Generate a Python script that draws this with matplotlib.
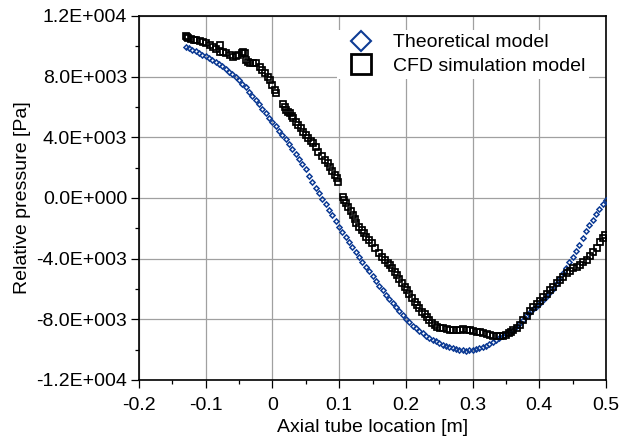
import math
import matplotlib
matplotlib.use("Agg")
import matplotlib.pyplot as plt
from matplotlib.lines import Line2D
from matplotlib.ticker import MultipleLocator, FuncFormatter

plt.rcParams['font.family'] = ['Liberation Sans', 'DejaVu Sans']

# Theoretical model (blue diamonds)
theory_x = [-0.130, -0.125, -0.120, -0.115, -0.110, -0.105, -0.100, -0.095, -0.090, -0.085,
            -0.080, -0.075, -0.070, -0.065, -0.060, -0.055, -0.050, -0.045, -0.040, -0.035,
            -0.030, -0.025, -0.020, -0.015, -0.010, -0.005, 0.000, 0.005, 0.010, 0.015,
            0.020, 0.025, 0.030, 0.035, 0.040, 0.045, 0.050, 0.055, 0.060, 0.065,
            0.070, 0.075, 0.080, 0.085, 0.090, 0.095, 0.100, 0.105, 0.110, 0.115,
            0.120, 0.125, 0.130, 0.135, 0.140, 0.145, 0.150, 0.155, 0.160, 0.165,
            0.170, 0.175, 0.180, 0.185, 0.190, 0.195, 0.200, 0.205, 0.210, 0.215,
            0.220, 0.225, 0.230, 0.235, 0.240, 0.245, 0.250, 0.255, 0.260, 0.265,
            0.270, 0.275, 0.280, 0.285, 0.290, 0.295, 0.300, 0.305, 0.310, 0.315,
            0.320, 0.325, 0.330, 0.335, 0.340, 0.345, 0.350, 0.355, 0.360, 0.365,
            0.370, 0.375, 0.380, 0.385, 0.390, 0.395, 0.400, 0.405, 0.410, 0.415,
            0.420, 0.425, 0.430, 0.435, 0.440, 0.445, 0.450, 0.455, 0.460, 0.465,
            0.470, 0.475, 0.480, 0.485, 0.490, 0.495, 0.500]
theory_p = [9980, 9880, 9780, 9670, 9560, 9450, 9340, 9230, 9120, 8990,
            8850, 8690, 8520, 8340, 8150, 7960, 7760, 7540, 7290, 7020,
            6740, 6460, 6170, 5880, 5580, 5290, 4990, 4720, 4440, 4150,
            3860, 3550, 3230, 2910, 2580, 2240, 1900, 1480, 1050, 670,
            300, -60, -420, -790, -1150, -1520, -1880, -2230, -2580, -2910,
            -3240, -3570, -3900, -4210, -4520, -4840, -5150, -5470, -5780, -6090,
            -6400, -6660, -6920, -7170, -7420, -7690, -7960, -8190, -8420, -8600,
            -8780, -8930, -9080, -9210, -9340, -9450, -9560, -9660, -9760, -9840,
            -9910, -9960, -10000, -10030, -10060, -10050, -10030, -9970, -9900, -9820,
            -9730, -9620, -9500, -9380, -9260, -9120, -8980, -8830, -8680, -8500,
            -8320, -8060, -7800, -7570, -7350, -7170, -6980, -6750, -6520, -6260,
            -5990, -5670, -5340, -4970, -4600, -4230, -3860, -3490, -3120, -2650,
            -2190, -1810, -1440, -1080, -720, -410, -100]

# CFD simulation model (black squares)
cfd_x = [-0.130, -0.128, -0.126, -0.122, -0.118, -0.114, -0.109, -0.104, -0.099, -0.094,
         -0.089, -0.084, -0.079, -0.079, -0.074, -0.069, -0.064, -0.059, -0.055, -0.051,
         -0.046, -0.044, -0.041, -0.039, -0.036, -0.034, -0.029, -0.024, -0.019, -0.015,
         -0.011, -0.007, -0.004, 0.000, 0.004, 0.006, 0.016, 0.019, 0.021, 0.024,
         0.026, 0.029, 0.031, 0.035, 0.039, 0.043, 0.046, 0.050, 0.054, 0.058,
         0.061, 0.065, 0.069, 0.074, 0.079, 0.083, 0.086, 0.090, 0.094, 0.097,
         0.099, 0.106, 0.108, 0.111, 0.114, 0.118, 0.121, 0.124, 0.126, 0.130,
         0.134, 0.138, 0.141, 0.145, 0.149, 0.154, 0.159, 0.164, 0.169, 0.173,
         0.176, 0.179, 0.183, 0.186, 0.190, 0.194, 0.198, 0.201, 0.205, 0.209,
         0.213, 0.216, 0.220, 0.224, 0.228, 0.231, 0.235, 0.239, 0.243, 0.246,
         0.251, 0.256, 0.261, 0.266, 0.271, 0.276, 0.281, 0.286, 0.291, 0.296,
         0.301, 0.306, 0.311, 0.316, 0.321, 0.326, 0.331, 0.336, 0.341, 0.346,
         0.350, 0.354, 0.358, 0.361, 0.366, 0.371, 0.376, 0.381, 0.386, 0.391,
         0.396, 0.401, 0.406, 0.411, 0.416, 0.421, 0.426, 0.431, 0.436, 0.441,
         0.446, 0.451, 0.456, 0.461, 0.466, 0.471, 0.476, 0.481, 0.486, 0.491,
         0.495, 0.499]
cfd_p = [10680, 10620, 10560, 10500, 10450, 10420, 10350, 10300, 10200, 10100,
         9980, 9850, 10090, 9650, 9600, 9540, 9450, 9320, 9350, 9430,
         9550, 9650, 9540, 9100, 8950, 8880, 8900, 8880, 8660, 8450,
         8220, 8000, 7780, 7450, 7120, 6900, 6200, 6000, 5800, 5700,
         5580, 5420, 5260, 5040, 4820, 4600, 4380, 4160, 3940, 3780,
         3610, 3330, 3060, 2780, 2510, 2290, 2070, 1800, 1520, 1300,
         1080, 90, -150, -350, -570, -850, -1120, -1400, -1670, -1900,
         -2110, -2330, -2550, -2770, -2990, -3320, -3650, -3870, -4090, -4260,
         -4420, -4630, -4870, -5100, -5360, -5620, -5840, -6060, -6330, -6610,
         -6830, -7050, -7270, -7490, -7650, -7820, -8040, -8260, -8380, -8480,
         -8540, -8590, -8650, -8720, -8710, -8700, -8680, -8660, -8690, -8720,
         -8760, -8810, -8860, -8920, -8990, -9050, -9070, -9080, -9090, -9100,
         -9020, -8920, -8810, -8700, -8540, -8370, -8060, -7750, -7480, -7200,
         -7000, -6800, -6550, -6300, -6070, -5840, -5620, -5400, -5180, -4960,
         -4800, -4630, -4520, -4410, -4250, -4080, -3810, -3540, -3320, -2870,
         -2650, -2440]

labels = ["Theoretical model", "CFD simulation model"]
blue = '#0d3b94'
FS = 14

fig = plt.figure(figsize=(6.21, 4.37), dpi=100)
ax = fig.add_axes([139/621, 1-380/437, (606-139)/621, (380-16)/437])

ax.plot(theory_x, theory_p, linestyle='none', marker='D', markersize=2.6,
        markeredgewidth=1.1, markerfacecolor='none', markeredgecolor=blue, zorder=3)
ax.plot(cfd_x, cfd_p, linestyle='none', marker='s', markersize=4.4,
        markeredgewidth=1.25, markerfacecolor='none', markeredgecolor='black', zorder=4)

ax.set_xlim(-0.2, 0.5)
ax.set_ylim(-12000, 12000)
ax.xaxis.set_major_locator(MultipleLocator(0.1))
ax.xaxis.set_minor_locator(MultipleLocator(0.05))
ax.yaxis.set_major_locator(MultipleLocator(4000))
ax.yaxis.set_minor_locator(MultipleLocator(2000))


def yfmt(v, pos):
    if abs(v) < 1e-9:
        return "0.0E+000"
    e = int(math.floor(math.log10(abs(v)) + 1e-9))
    m = v / 10**e
    sign = '+' if e >= 0 else '-'
    return f"{m:.1f}E{sign}{abs(e):03d}"


def xfmt(v, pos):
    v = round(v, 3)
    if abs(v) < 1e-9:
        return "0"
    return f"{v:g}"


ax.yaxis.set_major_formatter(FuncFormatter(yfmt))
ax.xaxis.set_major_formatter(FuncFormatter(xfmt))

ax.grid(True, which='major', color='#a0a0a0', linewidth=0.9)
ax.set_axisbelow(True)
ax.tick_params(which='major', direction='out', length=5.5, width=0.9, labelsize=FS)
ax.tick_params(axis='x', which='major', pad=7)
ax.tick_params(axis='y', which='major', pad=3)
ax.tick_params(which='minor', direction='out', length=3.0, width=0.9)
for s in ax.spines.values():
    s.set_linewidth(1.2)
    s.set_color('black')

ax.set_xlabel("Axial tube location [m]", fontsize=FS, labelpad=3)
ax.set_ylabel("Relative pressure [Pa]", fontsize=FS, labelpad=4)

handles = [
    Line2D([], [], linestyle='none', marker='D', markersize=10, markeredgewidth=1.5,
           markerfacecolor='none', markeredgecolor=blue),
    Line2D([], [], linestyle='none', marker='s', markersize=14, markeredgewidth=2.0,
           markerfacecolor='none', markeredgecolor='black'),
]
leg = ax.legend(handles, labels, loc='upper left', bbox_to_anchor=(0.425, 0.962),
                borderaxespad=0, borderpad=0.2, handlelength=2.0, handletextpad=0.65,
                labelspacing=0.3, fontsize=FS, frameon=True, fancybox=False)
leg.get_frame().set_edgecolor('none')
leg.get_frame().set_facecolor('white')
leg.get_frame().set_alpha(1)

fig.savefig("out.png", dpi=100)
